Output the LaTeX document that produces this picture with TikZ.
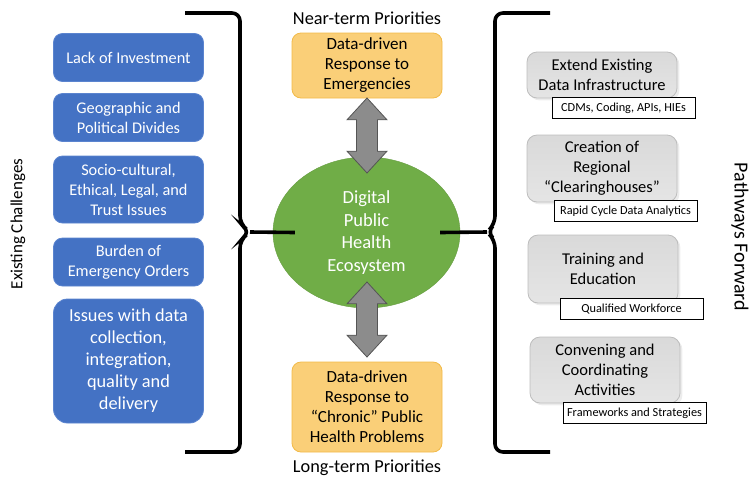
\documentclass[tikz,border=0pt]{standalone}
\usepackage{fontspec}
\setmainfont{Carlito}
\usetikzlibrary{positioning,shapes.geometric,shapes.arrows,shadows}

\definecolor{chalblue}{HTML}{4472C4}
\definecolor{challine}{HTML}{5B84CF}
\definecolor{prioorange}{RGB}{250,207,120}
\definecolor{prioline}{RGB}{242,186,72}
\definecolor{ecogreen}{HTML}{70AD47}
\definecolor{pathgray}{HTML}{D0D0D0}
\definecolor{pathline}{HTML}{BDBDBD}
\definecolor{arrowfill}{HTML}{8C8C8C}
\definecolor{arrowline}{HTML}{555555}

\tikzset{
  challenge/.style={draw=challine, line width=0.8pt, fill=chalblue, text=white,
    rounded corners=9pt, minimum width=150pt, align=center, inner sep=0pt,
    font=\fontsize{16.3}{20}\selectfont},
  priority/.style={draw=prioline, line width=0.8pt, fill=prioorange,
    rounded corners=9pt, minimum width=150pt, align=center, inner sep=0pt,
    font=\fontsize{17}{20}\selectfont},
  pathway/.style={draw=pathline, line width=0.8pt, top color=pathgray!80,
    bottom color=pathgray!110!black, rounded corners=10pt, minimum width=150pt,
    align=center, inner sep=0pt, drop shadow={opacity=0.15},
    font=\fontsize{16.5}{20}\selectfont},
  tag/.style={draw=black, line width=0.8pt, fill=white, minimum width=143pt,
    minimum height=21pt, inner sep=3pt, font=\fontsize{12.3}{14}\selectfont},
  heading/.style={font=\fontsize{18.3}{20}\selectfont},
  brace/.style={line width=3.6pt, rounded corners=8pt},
  dblarrow/.style={double arrow, draw=arrowline, line width=0.8pt, fill=arrowfill,
    rotate=90, minimum height=75pt, minimum width=40pt, inner sep=7.5pt,
    double arrow tip angle=85}
}

\begin{document}
\begin{tikzpicture}[x=1pt,y=-1pt]
  \useasboundingbox (0,0) rectangle (751,480);

  % existing challenges
  \node [rotate=90, font=\fontsize{17}{20}\selectfont] (chal) at (18,224) {Existing Challenges};
  \node [challenge, minimum height=48pt] (invest) at (128.5,57.5) {Lack of Investment};
  \node [challenge, minimum height=48pt] (divide) at (128.5,117.5) {Geographic and\\Political Divides};
  \node [challenge, minimum height=67pt] (trust) at (128.5,189.5) {Socio-cultural,\\Ethical, Legal, and\\Trust Issues};
  \node [challenge, minimum height=48pt] (orders) at (128.5,262) {Burden of\\Emergency Orders};
  \node [challenge, minimum height=124pt, rounded corners=14pt,
         font=\fontsize{18.3}{22}\selectfont] (dataiss) at (128.5,361)
        {Issues with data\\collection,\\integration,\\quality and\\delivery};

  % priorities and ecosystem
  \node [heading] (near) at (367,18) {Near-term Priorities};
  \node [priority, minimum height=65pt] (emerg) at (367,65.5) {Data-driven\\Response to\\Emergencies};
  \node [ellipse, fill=ecogreen, draw=ecogreen!90!black, minimum width=187pt,
         minimum height=151pt, text=white, align=center,
         font=\fontsize{18.5}{22.5}\selectfont] (eco) at (366.5,232.5)
        {Digital\\Public\\Health\\Ecosystem};
  \node [priority, minimum height=90pt] (chronic) at (367,407) {Data-driven\\Response to\\``Chronic'' Public\\Health Problems};
  \node [heading] (long) at (367,468) {Long-term Priorities};

  \node [dblarrow] (uparr) at (367,135.5) {};
  \node [dblarrow] (downarr) at (367,319.5) {};

  % pathways forward
  \node [pathway, minimum height=46pt] (extend) at (602,75) {Extend Existing\\Data Infrastructure};
  \node [tag, anchor=north west] (cdm) at ([xshift=25pt,yshift=1pt]extend.south west) {CDMs, Coding, APIs, HIEs};
  \node [pathway, minimum height=67pt] (clear) at (602,168.5) {Creation of\\Regional\\``Clearinghouses''};
  \node [tag, anchor=north west] (rapid) at ([xshift=27pt,yshift=2pt]clear.south west) {Rapid Cycle Data Analytics};
  \node [pathway, minimum height=68pt] (train) at (603,269) {Training and\\Education};
  \node [tag, anchor=north west] (workf) at ([xshift=32pt,yshift=5pt]train.south west) {Qualified Workforce};
  \node [pathway, minimum height=66pt] (conv) at (605,370) {Convening and\\Coordinating\\Activities};
  \node [tag, anchor=north west] (frame) at ([xshift=33pt,yshift=1pt]conv.south west) {Frameworks and Strategies};
  \node [rotate=-90, font=\fontsize{20}{22}\selectfont] (path) at (740,237) {Pathways Forward};

  % braces
  \coordinate (ltip) at (250,232);
  \coordinate (rtip) at (487,232);
  \draw [brace] (185,13) -| (240,224) -- (ltip) -- (240,240) |- (185,452);
  \draw [brace] (550,13) -| (495,224) -- (rtip) -- (495,240) |- (550,452);
  \draw [line width=3.6pt] (ltip) -- ([xshift=22pt]eco.west);
  \draw [line width=3.6pt] (rtip) -- ([xshift=-20pt]eco.east);
\end{tikzpicture}
\end{document}
